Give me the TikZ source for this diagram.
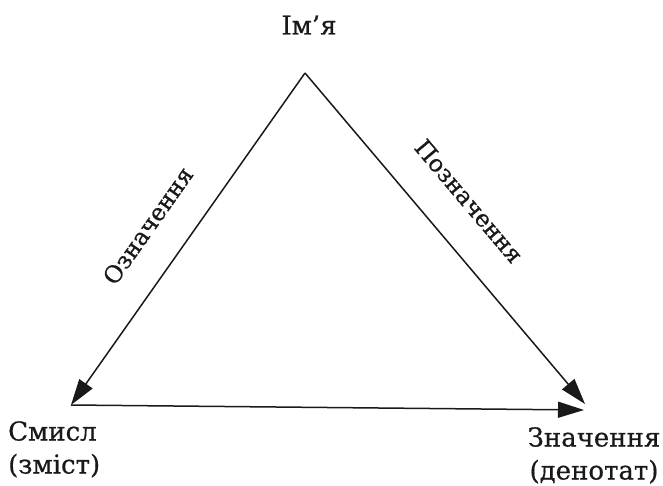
\documentclass[tikz,border=0pt]{standalone}
\usepackage{fontspec}
\setmainfont{DejaVu Serif}
\newfontfamily\scanfont{DejaVu Serif}[FakeBold=0.6]
\usetikzlibrary{arrows.meta, positioning, calc}
\tikzset{
  vertex/.style={inner sep=0pt, align=center, text=black!90,
    font=\scanfont\fontsize{26}{33}\selectfont},
  edgetext/.style={inner sep=0pt, text=black!90, sloped,
    font=\scanfont\fontsize{23.5}{26}\selectfont},
  arr/.style={-{Triangle[length=26pt,width=16pt]}, line width=1.5pt, draw=black!90},
}

\begin{document}
\begin{tikzpicture}[x=1pt, y=-1pt]
  \useasboundingbox (0,0) rectangle (663,486);

  % Corners of the triangle
  \coordinate (apex) at (305,73);
  \coordinate (sense) at (71,405);
  \coordinate (meaning) at (584,410);
  \coordinate (meaningup) at (585,404);

  % Corner texts
  \node[vertex] (imya) at (309,25) {Ім’я};
  \node[vertex, align=left, anchor=north west] (smysl) at (8,421) {Смисл\\(зміст)};
  \node[vertex, anchor=north] (znach) at (594,427) {Значення\\(денотат)};

  % Arrows
  \draw[arr] (apex) -- node[edgetext, pos=0.53, above=31pt] (oznach) {Означення} (sense);
  \draw[arr] (apex) -- node[edgetext, pos=0.47, above=33pt] (poznach) {Позначення} (meaningup);
  \draw[arr] (sense) -- (meaning);
\end{tikzpicture}
\end{document}
